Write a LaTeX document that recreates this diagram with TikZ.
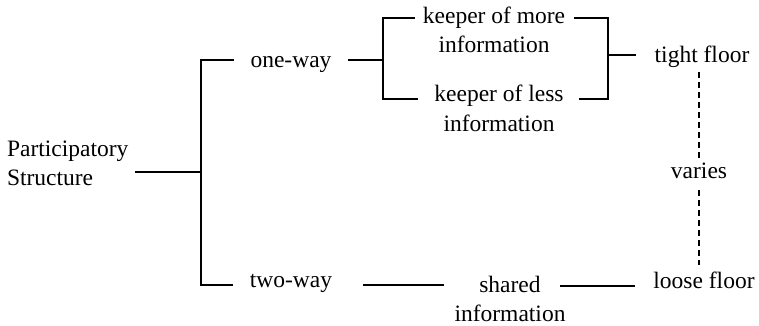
\documentclass[tikz,border=0pt]{standalone}
\usepackage{fontspec}
\setmainfont{Liberation Serif}
\newcommand{\mytwoc}[2]{\begin{tabular}[t]{@{}c@{}}#1\\#2\end{tabular}}
\newcommand{\mytwol}[2]{\begin{tabular}[t]{@{}l@{}}#1\\#2\end{tabular}}
\begin{document}
\begin{tikzpicture}[x=1pt,y=-1pt,
  lbl/.style={font=\fontsize{23.5}{29}\selectfont, inner sep=0pt, outer sep=0pt, anchor=base},
  conn/.style={line width=1.7pt, line cap=butt},
  dashconn/.style={line width=1.6pt, dash pattern=on 6pt off 4pt}]
\useasboundingbox (0,0) rectangle (759,326);
% nodes
\node[lbl, anchor=base west] (root) at (7,156) {\mytwol{Participatory}{Structure}};
\node[lbl] (oneway) at (291,68) {one-way};
\node[lbl] (twoway) at (291,287) {two-way};
\node[lbl] (kmore) at (494,24) {\mytwoc{keeper of more}{information}};
\node[lbl] (kless) at (499,102) {\mytwoc{keeper of less}{information}};
\node[lbl] (tight) at (702,63) {tight floor};
\node[lbl] (varies) at (699,178) {varies};
\node[lbl] (loose) at (704,288) {loose floor};
\node[lbl] (shared) at (510,292) {\mytwoc{shared}{information}};
% junctions
\coordinate (jA) at (201,172);
\coordinate (jB) at (383,60);
\coordinate (jC) at (608,55);
% connectors
\draw[conn] ([xshift=7pt]root.east |- jA) -- (jA);
\draw[conn] ([xshift=-17pt]oneway.west |- jB) -| (jA) |- ([xshift=-17pt]twoway.mid west);
\draw[conn] ([xshift=17pt]oneway.east |- jB) -- (jB);
\draw[conn] ([xshift=-8pt,yshift=6pt]kmore.base west) -| (jB) |- ([xshift=-16pt,yshift=3pt]kless.base west);
\draw[conn] ([xshift=9pt,yshift=6pt]kmore.base east) -| (jC) |- ([xshift=15pt,yshift=3pt]kless.base east);
\draw[conn] (jC) -- ([xshift=-19pt]tight.west |- jC);
\draw[dashconn] ([yshift=-4pt]tight.south -| varies.north) -- ([yshift=4pt]varies.north);
\draw[dashconn] ([yshift=-12pt]varies.south) -- ([yshift=6pt]loose.north -| varies.south);
\draw[conn] ([xshift=31pt]twoway.mid east) -- ([xshift=-11pt]shared.west |- twoway.mid east);
\draw[conn] ([xshift=-5pt]shared.east |- loose.mid west) -- ([xshift=-18pt]loose.mid west);
\end{tikzpicture}
\end{document}
